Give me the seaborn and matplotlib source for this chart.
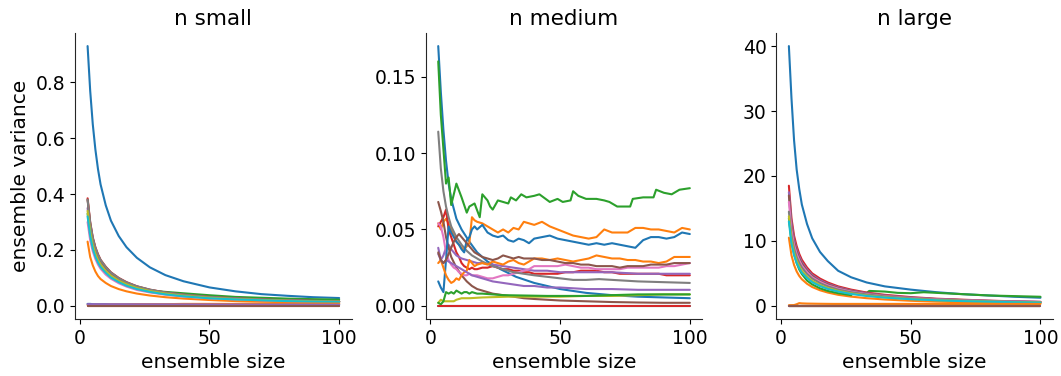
import matplotlib
matplotlib.use("Agg")
import matplotlib.pyplot as plt
import seaborn as sns
import pandas as pd

# ---------------- data ----------------
titles = ["n small", "n medium", "n large"]
colors = ["C0", "C1", "C2", "C3", "C4", "C5", "C6", "C7", "C8", "C9",
          "C0", "C1", "C2", "C3", "C4", "C5"]

XS = [3, 4, 5, 6, 7, 8, 10, 12, 15, 18, 22, 27, 33, 40, 50, 60, 70, 80, 90, 100]
XF = [3, 100]
XJ = [3, 4, 5, 6, 7, 8, 9, 10, 11, 12, 13, 14, 15, 16, 17, 18, 20, 22, 24, 26,
      28, 30, 32, 34, 36, 38, 40, 43, 46, 49, 52, 55, 58, 61, 64, 67, 70, 73,
      76, 79, 82, 85, 88, 91, 94, 97, 100]

# ---- n small ----
s_blue = [.93, .77, .65, .56, .49, .435, .36, .305, .25, .21, .172, .138, .11, .088, .066, .052, .042, .036, .031, .028]
s_orange = [.23, .175, .145, .123, .107, .096, .082, .071, .06, .052, .044, .037, .031, .026, .021, .017, .015, .013, .011, .01]
s_green = [.33, .26, .215, .185, .163, .146, .123, .106, .089, .077, .065, .055, .05, .045, .038, .032, .029, .026, .024, .022]
s_red = [.385, .30, .245, .21, .185, .165, .14, .12, .10, .085, .07, .058, .048, .04, .032, .027, .023, .02, .018, .016]
s_purple = [.35, .275, .225, .193, .17, .152, .129, .111, .093, .079, .065, .054, .045, .037, .03, .025, .021, .019, .017, .015]
s_brown = [.38, .295, .24, .206, .181, .162, .137, .118, .098, .083, .069, .057, .047, .039, .031, .026, .022, .019, .017, .015]
s_pink = [.30, .235, .195, .168, .148, .133, .112, .097, .081, .069, .057, .048, .04, .033, .027, .023, .02, .017, .015, .014]
s_gray = [.38, .297, .243, .208, .183, .164, .139, .119, .099, .084, .07, .058, .048, .04, .032, .027, .023, .02, .018, .016]
s_olive = [.34, .265, .218, .187, .165, .148, .125, .108, .09, .077, .064, .053, .044, .036, .029, .024, .021, .018, .016, .015]
s_cyan = [.32, .25, .205, .176, .155, .139, .118, .101, .085, .072, .06, .05, .041, .034, .027, .023, .02, .017, .015, .014]
s_blue2 = [.007, .007, .006, .006, .006, .006, .006, .005, .005, .005, .005, .005, .005, .004, .004, .004, .004, .004, .004, .004]
s_orange2 = [.003, .003, .003, .004, .004, .004, .004, .005, .005, .005, .006, .006, .006, .007, .007, .007, .008, .008, .008, .008]
s_green2 = [.002, .002]
s_red2 = [0.0, 0.0]
s_purple2 = [.006, .004]
s_brown2 = [0.0, 0.0]

# ---- n medium ----
m_blue = [.17, .14, .115, .095, .08, .07, .057, .05, .042, .035, .029, .024, .019, .015, .011, .0085, .007, .006, .0055, .005]
m_orange = [.054, .05, .055, .057, .054, .05, .046, .042, .040, .038, .037, .039, .041, .058, .056, .055, .054, .052, .050, .048,
            .050, .048, .051, .050, .055, .054, .053, .055, .052, .050, .048, .046, .045, .044, .045, .050, .048, .048,
            .048, .051, .051, .050, .050, .049, .048, .051, .050]
m_green_x = [3, 4, 6, 7, 8, 10, 12, 14, 15, 17, 19, 20, 22, 23, 24, 26, 28, 30, 31, 33, 35, 37, 40, 42, 46, 49, 51, 54,
             55, 57, 60, 64, 67, 69, 72, 77, 78, 82, 86, 87, 90, 93, 96, 100]
m_green = [.16, .125, .08, .084, .066, .08, .071, .061, .065, .067, .058, .073, .069, .065, .063, .069, .068, .067, .071,
           .069, .073, .071, .072, .073, .068, .070, .068, .069, .075, .072, .070, .070, .069, .068, .065, .065, .070,
           .071, .071, .076, .074, .073, .076, .077]
m_red = [.052, .055, .058, .063, .05, .045, .04, .035, .032, .028, .026, .025, .024, .025, .024, .024, .025, .025, .026, .025,
         .024, .024, .023, .023, .022, .022, .021, .021, .021, .021, .022, .022, .023, .023, .023, .022, .022, .021,
         .021, .021, .021, .021, .021, .020, .020, .020, .020]
m_purple_x = [3, 4, 5, 6, 7, 8, 10, 12, 14, 16, 18, 20, 24, 28, 32, 36, 40, 45, 50, 60, 70, 80, 90, 100]
m_purple = [.038, .03, .033, .038, .04, .037, .033, .031, .03, .029, .028, .028, .027, .026, .025, .024, .023, .023, .022, .022, .022, .021, .021, .021]
m_brown_x = [3, 4, 5, 6, 7, 8, 10, 12, 14, 16, 18, 20, 24, 28, 32, 36, 40, 45, 50, 60, 70, 80, 90, 100]
m_brown = [.068, .062, .055, .045, .038, .032, .025, .02, .016, .013, .011, .01, .008, .007, .006, .005, .0045, .004, .0035, .003, .0025, .0022, .002, .002]
m_pink = [.054, .052, .045, .035, .03, .027, .025, .024, .022, .021, .02, .02, .021, .02, .02, .02, .019, .018, .018, .019,
          .02, .02, .021, .022, .023, .024, .026, .026, .026, .026, .027, .026, .025, .025, .024, .024, .024, .024,
          .025, .025, .025, .025, .025, .026, .026, .027, .028]
m_gray_x = [3, 4, 5, 6, 7, 8, 10, 12, 14, 16, 18, 20, 24, 28, 32, 36, 40, 45, 50, 55, 60, 65, 70, 80, 90, 100]
m_gray = [.114, .09, .075, .065, .058, .052, .045, .04, .036, .033, .031, .029, .026, .024, .022, .021, .02, .019, .018, .017, .017, .0175, .017, .016, .0155, .015]
m_olive_x = [3, 4, 5, 7, 9, 10, 12, 15, 20, 30, 40, 50, 60, 70, 80, 90, 100]
m_olive = [.002, .004, .003, .003, .003, .004, .005, .005, .0055, .006, .006, .006, .0065, .0065, .007, .0075, .0075]
m_cyan = [0.0, 0.0]
m_blue2 = [.016, .012, .009, .03, .052, .048, .045, .042, .04, .037, .035, .043, .045, .050, .052, .050, .053, .048, .046, .045,
           .046, .043, .042, .044, .043, .041, .044, .045, .046, .044, .043, .042, .041, .040, .041, .040, .041, .040,
           .039, .038, .043, .045, .045, .044, .045, .048, .047]
m_orange2 = [.028, .03, .025, .02, .017, .015, .016, .018, .017, .02, .022, .023, .03, .028, .026, .027, .028, .027, .029, .028,
             .027, .029, .030, .028, .027, .029, .031, .031, .030, .031, .030, .029, .030, .031, .033, .032, .031, .031,
             .030, .030, .029, .029, .028, .029, .032, .032, .032]
m_green2_x = [3, 4, 5, 6, 7, 8, 9, 10, 11, 12, 13, 14, 15, 16, 18, 20, 24, 28, 35, 45, 60, 70, 80, 90, 100]
m_green2 = [.002, .001, .003, .009, .008, .009, .008, .010, .009, .008, .009, .009, .008, .009, .008, .008, .0075, .007, .0068, .0065, .0065, .007, .0075, .0075, .0075]
m_red2 = [0.0, 0.0]
m_purple2_x = [3, 4, 5, 6, 7, 8, 10, 12, 14, 16, 18, 20, 24, 28, 32, 36, 40, 45, 50, 60, 70, 80, 90, 100]
m_purple2 = [.034, .03, .028, .03, .029, .028, .026, .024, .022, .02, .019, .018, .016, .015, .014, .013, .013, .012, .012, .011, .011, .0105, .0105, .0105]
m_brown2 = [.035, .03, .028, .03, .034, .038, .042, .045, .047, .045, .043, .041, .039, .037, .035, .034, .032, .031, .030, .031,
            .033, .032, .031, .032, .031, .031, .031, .030, .030, .029, .028, .028, .027, .027, .026, .026, .026, .025,
            .026, .026, .026, .027, .027, .027, .028, .028, .028]

# ---- n large ----
l_blue = [40, 32, 25.5, 21, 18, 15.6, 12.6, 10.4, 8.3, 6.9, 5.4, 4.4, 3.6, 3.0, 2.5, 2.1, 1.8, 1.6, 1.4, 1.25]
l_orange = [10.5, 7.8, 6.3, 5.3, 4.6, 4.1, 3.4, 2.9, 2.4, 2.05, 1.7, 1.42, 1.18, 0.98, 0.78, 0.65, 0.56, 0.5, 0.45, 0.4]
l_green_x = [3, 4, 5, 6, 7, 8, 10, 12, 15, 18, 22, 27, 28, 33, 34, 40, 45, 50, 55, 60, 70, 80, 90, 100]
l_green = [13.5, 10.0, 8.0, 6.6, 5.6, 4.9, 3.9, 3.3, 2.7, 2.3, 1.95, 1.65, 2.1, 2.0, 2.3, 2.2, 2.0, 1.95, 2.1, 2.0, 1.8, 1.6, 1.5, 1.4]
l_red = [18.5, 13.5, 10.8, 9.2, 8.0, 7.1, 5.9, 5.0, 4.2, 3.6, 3.0, 2.5, 2.05, 1.7, 1.35, 1.1, 0.95, 0.8, 0.7, 0.62]
l_purple = [17.5, 12.8, 10.2, 8.7, 7.6, 6.7, 5.6, 4.75, 3.95, 3.4, 2.85, 2.35, 1.95, 1.6, 1.28, 1.05, 0.9, 0.78, 0.68, 0.6]
l_brown = [17.0, 12.4, 9.9, 8.4, 7.3, 6.5, 5.4, 4.6, 3.8, 3.3, 2.75, 2.3, 1.9, 1.55, 1.25, 1.03, 0.88, 0.76, 0.66, 0.58]
l_pink = [16.0, 11.7, 9.4, 8.0, 7.0, 6.2, 5.2, 4.4, 3.7, 3.15, 2.65, 2.2, 1.82, 1.5, 1.2, 1.0, 0.86, 0.75, 0.66, 0.6]
l_gray = [14.5, 10.8, 8.8, 7.5, 6.6, 5.9, 4.9, 4.2, 3.5, 3.0, 2.5, 2.1, 1.75, 1.45, 1.15, 0.96, 0.82, 0.71, 0.62, 0.55]
l_olive = [13.8, 10.2, 8.2, 7.0, 6.1, 5.4, 4.5, 3.85, 3.2, 2.75, 2.3, 1.92, 1.6, 1.33, 1.06, 0.88, 0.76, 0.66, 0.58, 0.52]
l_cyan = [13.0, 9.6, 7.8, 6.6, 5.8, 5.1, 4.3, 3.65, 3.05, 2.6, 2.2, 1.83, 1.52, 1.27, 1.02, 0.85, 0.73, 0.64, 0.56, 0.5]
l_blue2 = [0.05, 0.05]
l_orange2_x = [3, 5, 6, 7, 8, 10, 15, 20, 30, 50, 70, 100]
l_orange2 = [0.1, 0.12, 0.25, 0.42, 0.38, 0.35, 0.32, 0.3, 0.3, 0.3, 0.3, 0.3]
l_green2 = [0.02, 0.02]
l_red2 = [0.0, 0.0]
l_purple2 = [0.03, 0.03]
l_brown2 = [0.0, 0.0]

panels = [
    [(XS, s_blue), (XS, s_orange), (XS, s_green), (XS, s_red), (XS, s_purple), (XS, s_brown),
     (XS, s_pink), (XS, s_gray), (XS, s_olive), (XS, s_cyan), (XS, s_blue2), (XS, s_orange2),
     (XF, s_green2), (XF, s_red2), (XF, s_purple2), (XF, s_brown2)],
    [(XS, m_blue), (XJ, m_orange), (m_green_x, m_green), (XJ, m_red), (m_purple_x, m_purple),
     (m_brown_x, m_brown), (XJ, m_pink), (m_gray_x, m_gray), (m_olive_x, m_olive), (XF, m_cyan),
     (XJ, m_blue2), (XJ, m_orange2), (m_green2_x, m_green2), (XF, m_red2),
     (m_purple2_x, m_purple2), (XJ, m_brown2)],
    [(XS, l_blue), (XS, l_orange), (l_green_x, l_green), (XS, l_red), (XS, l_purple), (XS, l_brown),
     (XS, l_pink), (XS, l_gray), (XS, l_olive), (XS, l_cyan), (XF, l_blue2), (l_orange2_x, l_orange2),
     (XF, l_green2), (XF, l_red2), (XF, l_purple2), (XF, l_brown2)],
]

yticks = [[0.0, 0.2, 0.4, 0.6, 0.8], [0.00, 0.05, 0.10, 0.15], [0, 10, 20, 30, 40]]
ytick_fmt = ["{:.1f}", "{:.2f}", "{:.0f}"]

# ---------------- plot ----------------
sns.set_style("ticks")
plt.rcParams["font.family"] = ["DejaVu Sans"]
plt.rcParams["font.size"] = 14
for key in ["text.color", "axes.labelcolor", "xtick.color", "ytick.color"]:
    plt.rcParams[key] = "black"

fig, axes = plt.subplots(1, 3, figsize=(10.61, 3.76), dpi=100)
fig.subplots_adjust(left=0.0707, right=0.9925, bottom=0.152, top=0.912, wspace=0.267)

for k, ax in enumerate(axes):
    for i, (xs, ys) in enumerate(panels[k]):
        df = pd.DataFrame({"x": xs, "y": ys})
        sns.lineplot(data=df, x="x", y="y", ax=ax, color=colors[i], linewidth=1.5,
                     estimator=None, sort=False)
    ax.set_title(titles[k], fontsize=15.5)
    ax.set_xlabel("ensemble size", fontsize=14.5)
    ax.set_ylabel("ensemble variance" if k == 0 else "", fontsize=14.5)
    ax.set_xticks([0, 50, 100])
    ax.set_yticks(yticks[k])
    ax.set_yticklabels([ytick_fmt[k].format(v) for v in yticks[k]])
    ax.tick_params(labelsize=13.5)
    sns.despine(ax=ax)

fig.savefig("out.png", dpi=100)
